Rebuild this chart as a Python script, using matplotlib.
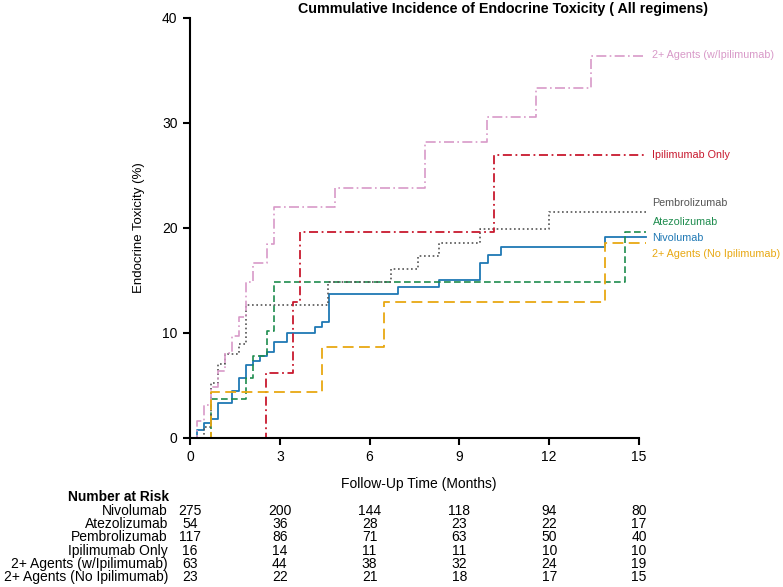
import matplotlib
matplotlib.use("Agg")
import matplotlib.pyplot as plt

# ---------------- data ----------------
nivo_t = [0, 0.22, 0.47, 0.70, 0.92, 1.39, 1.63, 1.86, 2.09, 2.33, 2.56, 2.80, 3.25, 4.18, 4.40, 4.64, 6.94, 8.32, 9.69, 9.94, 10.39, 13.87, 15.22]
nivo_v = [0, 0.73, 1.43, 1.81, 3.33, 4.48, 5.69, 6.92, 7.33, 7.75, 8.19, 9.08, 10.0, 10.54, 11.05, 13.71, 14.38, 15.02, 16.61, 17.37, 18.13, 19.11, 19.11]

atezo_t = [0, 0.70, 1.86, 2.09, 2.56, 2.80, 14.53, 15.22]
atezo_v = [0, 3.65, 5.69, 7.81, 10.16, 14.86, 19.56, 19.56]

pembro_t = [0, 0.47, 0.70, 0.92, 1.16, 1.63, 1.86, 4.62, 6.70, 7.63, 8.32, 9.69, 12.0, 15.22]
pembro_v = [0, 1.0, 5.2, 7.02, 7.97, 8.9, 12.64, 14.86, 16.03, 17.3, 18.57, 19.88, 21.52, 21.52]

ipi_t = [0, 2.53, 3.45, 3.69, 10.14, 15.22]
ipi_v = [0, 6.19, 12.89, 19.62, 26.92, 26.92]

combo_ipi_t = [0, 0.22, 0.47, 0.70, 0.92, 1.16, 1.39, 1.63, 1.86, 2.09, 2.56, 2.80, 4.84, 7.85, 9.93, 11.55, 13.40, 15.22]
combo_ipi_v = [0, 1.56, 3.14, 4.8, 6.4, 8.04, 9.72, 11.46, 14.86, 16.67, 18.44, 22.0, 23.81, 28.13, 30.57, 33.33, 36.32, 36.32]

combo_noipi_t = [0, 0.70, 4.40, 6.47, 13.87, 15.22]
combo_noipi_v = [0, 4.32, 8.67, 12.95, 18.51, 18.51]

groups = ["Nivolumab", "Atezolizumab", "Pembrolizumab", "Ipilimumab Only",
          "2+ Agents (w/Ipilimumab)", "2+ Agents (No Ipilimumab)"]

risk_times = [0, 3, 6, 9, 12, 15]
risk_nivo = [275, 200, 144, 118, 94, 80]
risk_atezo = [54, 36, 28, 23, 22, 17]
risk_pembro = [117, 86, 71, 63, 50, 40]
risk_ipi = [16, 14, 11, 11, 10, 10]
risk_combo_ipi = [63, 44, 38, 32, 24, 19]
risk_combo_noipi = [23, 22, 21, 18, 17, 15]

x_ticks = [0, 3, 6, 9, 12, 15]
y_ticks = [0, 10, 20, 30, 40]

# ---------------- style ----------------
plt.rcParams["font.family"] = ["Liberation Sans", "DejaVu Sans"]

series = [
    (nivo_t, nivo_v, "#1F78B4", "-", 1.3),
    (atezo_t, atezo_v, "#1E8C4E", (0, (4, 2)), 1.2),
    (pembro_t, pembro_v, "#555555", (0, (1, 1.6)), 1.2),
    (ipi_t, ipi_v, "#C8192E", (0, (5, 2, 1, 2)), 1.3),
    (combo_ipi_t, combo_ipi_v, "#D899C8", (0, (6, 2, 1, 2)), 1.2),
    (combo_noipi_t, combo_noipi_v, "#E8A812", (0, (6, 3)), 1.3),
]
label_y = [19.05, 20.5, 22.4, 26.9, 36.4, 17.47]

W, H = 783, 587
fig = plt.figure(figsize=(W / 100, H / 100), dpi=100)
ax = fig.add_axes([190 / W, (H - 437.7) / H, 458 / W, 420 / H])

for (t, v, c, ls, lw), name, ly in zip(series, groups, label_y):
    ax.step(t, v, where="post", color=c, linestyle=ls, linewidth=lw, clip_on=False)
    ax.text(15.45, ly, name, color=c, fontsize=7.75, va="center", ha="left", clip_on=False)

ax.set_xlim(0, 15.3)
ax.set_ylim(0, 40)
ax.set_xticks(x_ticks)
ax.set_yticks(y_ticks)
for s in ["top", "right"]:
    ax.spines[s].set_visible(False)
ax.spines["bottom"].set_bounds(0, 15)
ax.spines["left"].set_bounds(0, 40)
for s in ["bottom", "left"]:
    ax.spines[s].set_linewidth(1.5)
ax.tick_params(direction="out", length=5, width=1.5, labelsize=10, pad=4)
ax.set_xlabel("Follow-Up Time (Months)", fontsize=10, labelpad=9)
ax.set_ylabel("Endocrine Toxicity (%)", fontsize=9.5, labelpad=12)
fig.text(502.5 / W, 1 - 9 / H, "Cummulative Incidence of Endocrine Toxicity ( All regimens)",
         fontsize=10.3, fontweight="bold", ha="center", va="center")

# ---------------- number at risk ----------------
risk_rows = [risk_nivo, risk_atezo, risk_pembro, risk_ipi, risk_combo_ipi, risk_combo_noipi]
fig.text(169 / W, 1 - 497.3 / H, "Number at Risk", fontsize=9.9, fontweight="bold",
         ha="right", va="center")
for i, (name, row) in enumerate(zip(groups, risk_rows)):
    ypix = 510.7 + i * 13.3
    fig.text(168 / W, 1 - ypix / H, name, fontsize=10, ha="right", va="center")
    for t, n in zip(risk_times, row):
        ax.annotate(str(n), xy=(t, 1 - ypix / H), xycoords=("data", "figure fraction"),
                    fontsize=10, ha="center", va="center", annotation_clip=False)

fig.savefig("out.png", dpi=100)
